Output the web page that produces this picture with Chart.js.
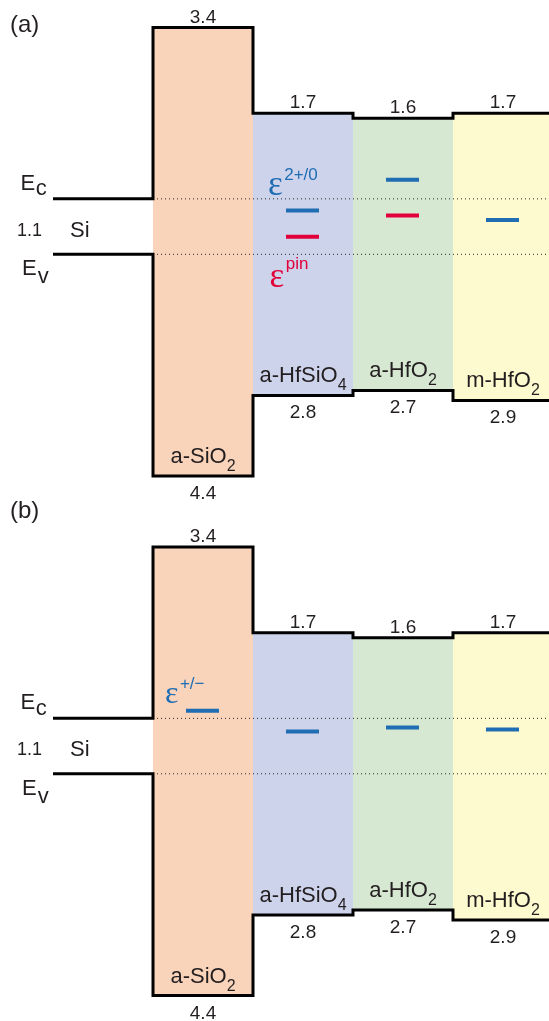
<!DOCTYPE html>
<html><head><meta charset="utf-8">
<script src="https://cdn.jsdelivr.net/npm/chart.js@4.4.1/dist/chart.umd.min.js"></script>
<style>
html,body{margin:0;padding:0;background:#fff;width:549px;height:1021px;overflow:hidden}
canvas{position:absolute;left:0;display:block}
#ca{top:0}
#cb{top:500px}
</style></head><body>
<canvas id="ca" width="549" height="500"></canvas>
<canvas id="cb" width="549" height="521"></canvas>
<script>
// ---- data (energies in eV, Si valence band top = 0) ----
const regions = ['Si', 'a-SiO2', 'a-HfSiO4', 'a-HfO2', 'm-HfO2'];
const siGap = 1.1;
const cbOffset = [3.4, 1.7, 1.6, 1.7];   // conduction band offsets of the oxides
const vbOffset = [4.4, 2.8, 2.7, 2.9];   // valence band offsets of the oxides
const cbLabels = ['3.4', '1.7', '1.6', '1.7'];
const vbLabels = ['4.4', '2.8', '2.7', '2.9'];
// defect levels per oxide (a-SiO2, a-HfSiO4, a-HfO2, m-HfO2), eV above Si Ev
const levelsA_eps20 = [null, 0.87, 1.48, 0.68];
const levelsA_pin   = [null, 0.35, 0.77, null];
const levelsB_epsPM = [1.25, 0.84, 0.92, 0.88];

// ---- styles ----
const fillColors = ['#f9d3ba', '#ced3ec', '#d7e8d2', '#fefacf'];
const BLUE = '#1f6db3', RED = '#e1003a', INK = '#231f20';
const SANS = "'Liberation Sans', Arial, sans-serif";
const SERIF = "'Liberation Serif', 'Times New Roman', serif";
const PX_PER_EV = 50.4;

function drawParts(ctx, x, y, parts, align) {
  let total = 0;
  parts.forEach(p => { ctx.font = p.font; p.w = ctx.measureText(p.text).width; total += p.w + (p.dx || 0); });
  let cx = align === 'center' ? x - total / 2 : x;
  parts.forEach(p => {
    ctx.font = p.font; ctx.fillStyle = p.color || INK;
    ctx.fillText(p.text, cx + (p.dx || 0), y + (p.dy || 0));
    cx += p.w + (p.dx || 0);
  });
}
function nameParts(name) {
  const m = name.match(/^(.*?)(\d)$/);
  const parts = [{ text: m ? m[1] : name, font: '22px ' + SANS }];
  if (m) parts.push({ text: m[2], font: '16px ' + SANS, dy: 8 });
  return parts;
}

function buildPanel(id, cfg) {
  const canvas = document.getElementById(id);
  const H = canvas.height;
  const yMax = siGap + cbOffset[0] + cfg.topPx / PX_PER_EV;
  const yMin = yMax - H / PX_PER_EV;
  const Ec = siGap, Ev = 0;
  const ds = [];
  // oxide regions (filled between CB edge and VB edge)
  cbOffset.forEach((cb, k) => {
    const i = k + 1;
    ds.push({ data: [{ x: i, y: Ec + cb }, { x: i + 1, y: Ec + cb }], fill: '+1',
      backgroundColor: fillColors[k], borderColor: 'rgba(0,0,0,0)', borderWidth: 0, order: 10 });
    ds.push({ data: [{ x: i, y: Ev - vbOffset[k] }, { x: i + 1, y: Ev - vbOffset[k] }], fill: false,
      borderColor: 'rgba(0,0,0,0)', borderWidth: 0, order: 10 });
  });
  // dotted Si band edge references
  [Ec, Ev].forEach(lv => ds.push({ data: [{ x: 1, y: lv }, { x: regions.length, y: lv }],
    borderColor: '#2a2a2a', borderWidth: 1, borderDash: [1, 3], fill: false, order: 5 }));
  // band edges (step outlines)
  const up = [{ x: 0, y: Ec }, { x: 1, y: Ec }], lo = [{ x: 0, y: Ev }, { x: 1, y: Ev }];
  cbOffset.forEach((cb, k) => {
    up.push({ x: k + 1, y: Ec + cb }, { x: k + 2, y: Ec + cb });
    lo.push({ x: k + 1, y: Ev - vbOffset[k] }, { x: k + 2, y: Ev - vbOffset[k] });
  });
  [up, lo].forEach(d => ds.push({ data: d, borderColor: '#000', borderWidth: 3,
    borderJoinStyle: 'miter', borderCapStyle: 'butt', fill: false, order: 2 }));
  // defect levels
  cfg.levels.forEach(L => L.values.forEach((v, k) => {
    if (v === null) return;
    ds.push({ data: [{ x: k + 1.33, y: v }, { x: k + 1.66, y: v }], borderColor: L.color,
      borderWidth: 4, borderCapStyle: 'butt', fill: false, order: 1 });
  }));

  const textPlugin = {
    id: 'txt' + id,
    afterDraw(chart) {
      const ctx = chart.ctx, X = chart.scales.x, Y = chart.scales.y;
      ctx.save();
      ctx.textBaseline = 'alphabetic';
      // panel letter
      drawParts(ctx, cfg.letterX, cfg.letterY, [{ text: cfg.letter, font: '24px ' + SANS }], 'left');
      // offsets and region names
      cbOffset.forEach((cb, k) => {
        const cx = X.getPixelForValue(k + 1.5);
        const yt = Y.getPixelForValue(Ec + cb), yb = Y.getPixelForValue(Ev - vbOffset[k]);
        drawParts(ctx, cx, yt - 5, [{ text: cbLabels[k], font: '19px ' + SANS }], 'center');
        drawParts(ctx, cx, yb + 23, [{ text: vbLabels[k], font: '19px ' + SANS }], 'center');
        drawParts(ctx, cx, yb - 13, nameParts(regions[k + 1]), 'center');
      });
      // Si labels
      const yEc = Y.getPixelForValue(Ec), yEv = Y.getPixelForValue(Ev), mid = (yEc + yEv) / 2;
      drawParts(ctx, 20.5, yEc - 9, [{ text: 'E', font: '22px ' + SANS }, { text: 'c', font: '22px ' + SANS, dy: 5.5, dx: 0.5 }], 'left');
      drawParts(ctx, 22, yEv + 21, [{ text: 'E', font: '22px ' + SANS }, { text: 'v', font: '22px ' + SANS, dy: 8, dx: 1 }], 'left');
      drawParts(ctx, 17, mid + 9, [{ text: siGap.toFixed(1), font: '18px ' + SANS }], 'left');
      drawParts(ctx, 70, mid + 10, [{ text: regions[0], font: '22px ' + SANS }], 'left');
      // defect level labels
      cfg.levels.forEach(L => {
        if (!L.label) return;
        const k = L.label.at;
        const x0 = X.getPixelForValue(k + 1) + L.label.dx;
        const y0 = Y.getPixelForValue(L.values[k]);
        drawParts(ctx, x0, y0 + L.label.dy, [
          { text: 'ε', font: L.label.epsSize + 'px ' + SERIF, color: L.color },
          { text: L.label.sup, font: '17px ' + SANS, color: L.color, dx: 1.5, dy: L.label.supDy }
        ], 'left');
      });
      ctx.restore();
    }
  };

  return new Chart(canvas, {
    type: 'line',
    data: { datasets: ds },
    options: {
      responsive: false, animation: false, events: [],
      layout: { padding: 0 },
      elements: { point: { radius: 0 }, line: { tension: 0 } },
      plugins: { legend: { display: false }, tooltip: { enabled: false }, title: { display: false } },
      scales: {
        x: { type: 'linear', min: -0.53, max: 4.96, display: false },
        y: { type: 'linear', min: yMin, max: yMax, display: false }
      }
    },
    plugins: [textPlugin]
  });
}

buildPanel('ca', {
  topPx: 27.5, letter: '(a)', letterX: 10, letterY: 32,
  levels: [
    { values: levelsA_eps20, color: BLUE, label: { at: 1, dx: 15, dy: -15, sup: '2+/0', supDy: -15, epsSize: 35 } },
    { values: levelsA_pin, color: RED, label: { at: 1, dx: 16.5, dy: 50.6, sup: 'pin', supDy: -18.3, epsSize: 35 } }
  ]
});
buildPanel('cb', {
  topPx: 47, letter: '(b)', letterX: 10, letterY: 18,
  levels: [
    { values: levelsB_epsPM, color: BLUE, label: { at: 0, dx: 12, dy: -7.4, sup: '+/\u2212', supDy: -14.3, epsSize: 32 } }
  ]
});
</script>
</body></html>
